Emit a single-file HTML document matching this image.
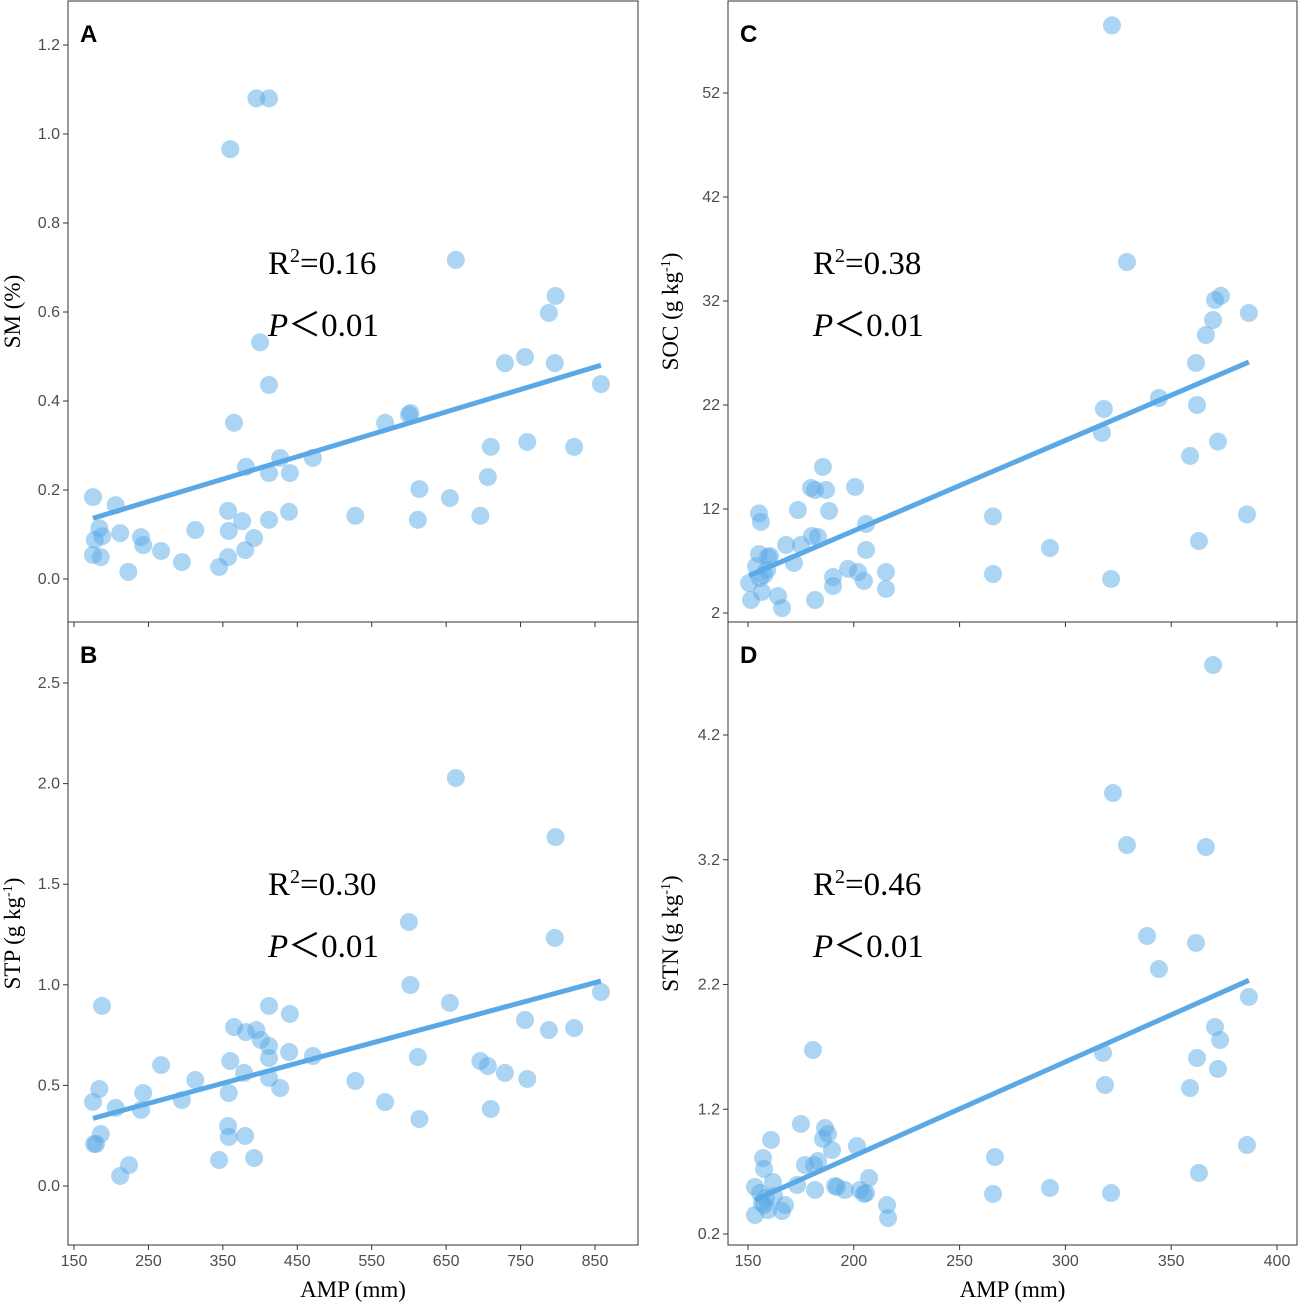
<!DOCTYPE html>
<html><head><meta charset="utf-8">
<style>
html,body{margin:0;padding:0;background:#fff;}
svg{display:block;}
.tk{font-family:"Liberation Sans",sans-serif;font-size:16px;fill:#4d4d4d;}
.ttl{font-family:"Liberation Serif",serif;font-size:23px;fill:#000;}
.ann{font-family:"Liberation Serif",serif;font-size:33px;fill:#000;}
.lab{font-family:"Liberation Sans",sans-serif;font-size:24px;font-weight:bold;fill:#000;}
</style></head>
<body>
<svg id="chart" width="1299" height="1302" viewBox="0 0 1299 1302"></svg>
<script>
const xA=[175.5,175.5,178,184,188,186,206,212,223,240,243,267,295,313,345,357,358,357,360,365,380,376,381,392,395,412,400,412,412,412,427,440,439,471,528,568,600,602,614,612,655,663,696,706,710,729,756,759,788,796,797,822,858];
const yA=[.184,.054,.088,.114,.096,.049,.166,.103,.016,.094,.076,.063,.038,.110,.027,.153,.108,.049,.966,.351,.065,.130,.252,.092,1.08,1.08,.532,.436,.238,.133,.272,.238,.151,.272,.142,.351,.369,.373,.202,.133,.182,.717,.142,.229,.297,.485,.499,.308,.598,.485,.636,.297,.438];
const xB=[175.5,177,179.6,184,186,187.6,206,212,224,240,243,267,295,313,345,357,358,360,358,365,378.5,380,381,392,395,401,412,412,412,412,427,440,439,471,528,568,600,602,612,614,655,663,696,706,710,729,756,759,788,796,797,822,858];
const yB=[.418,.209,.209,.482,.258,.895,.388,.050,.104,.378,.462,.601,.427,.527,.129,.298,.244,.621,.462,.790,.562,.249,.765,.139,.775,.726,.895,.696,.636,.537,.487,.855,.666,.646,.522,.417,1.312,.999,.641,.333,.910,2.028,.621,.596,.383,.562,.825,.532,.775,1.233,1.734,.785,.964];
const xC=[150.5,151.4,153.8,155.2,156.1,155.2,155.7,156.6,157.6,159.0,159.5,160.4,164.2,166.1,168.0,171.7,173.6,175.0,179.8,180.2,181.7,183.1,185.4,186.9,188.3,190.2,190.2,197.3,200.6,202.0,204.8,205.8,205.8,215.2,215.2,181.7,265.8,265.8,292.7,318.2,317.3,321.6,322.0,329.1,344.2,358.9,361.7,362.2,363.1,366.4,369.8,370.7,372.1,373.5,385.8,386.7];
const yC=[4.88,3.25,6.49,11.58,10.75,7.67,5.37,4.02,5.65,6.13,7.38,7.48,3.63,2.48,8.54,6.81,11.90,8.54,14.02,9.40,13.83,9.31,16.04,13.83,11.81,5.46,4.60,6.25,14.12,5.94,5.08,10.56,8.06,5.94,4.31,3.25,11.29,5.75,8.25,21.62,19.31,5.27,58.5,35.75,22.67,17.10,26.04,22.0,8.92,28.73,30.17,32.1,18.48,32.5,11.48,30.85];
const xD=[153.3,153.3,155.7,156.6,157.1,157.6,157.6,158.5,159.5,160.9,161.8,162.3,166.1,167.5,173.2,175.0,176.9,180.7,181.2,183.1,185.4,186.4,187.8,189.7,191.1,192.1,195.8,201.5,202.9,204.8,205.8,207.2,215.7,216.2,181.7,265.8,266.7,292.7,317.8,318.7,321.6,322.5,329.1,338.6,344.2,358.9,361.7,362.2,363.1,366.4,369.8,370.7,372.1,373.1,385.8,386.7];
const yD=[.352,.577,.529,.449,.809,.721,.432,.489,.392,.954,.617,.505,.384,.432,.593,1.082,.753,1.675,.753,.785,.962,1.050,1.002,.873,.585,.577,.553,.905,.553,.521,.529,.649,.432,.328,.553,.521,.817,.569,1.651,1.394,.529,3.735,3.318,2.589,2.324,1.370,2.533,1.611,.689,3.302,4.761,1.859,1.523,1.755,.913,2.100];
const ticksXAB=[150,250,350,450,550,650,750,850];
const ticksXCD=[150,200,250,300,350,400];
const ticksYA=[0.0,0.2,0.4,0.6,0.8,1.0,1.2];
const ticksYB=[0.0,0.5,1.0,1.5,2.0,2.5];
const ticksYC=[2,12,22,32,42,52];
const ticksYD=[0.2,1.2,2.2,3.2,4.2];
const r2Labels=["0.16","0.30","0.38","0.46"];

const NS="http://www.w3.org/2000/svg";
const svg=document.getElementById('chart');
function mk(tag,attrs,parent){const e=document.createElementNS(NS,tag);for(const k in attrs)e.setAttribute(k,attrs[k]);(parent||svg).appendChild(e);return e;}
function lin(d0,d1,p0,p1){return v=>p0+(v-d0)*(p1-p0)/(d1-d0);}
function fit(xs,ys){const n=xs.length;let mx=0,my=0;for(let i=0;i<n;i++){mx+=xs[i];my+=ys[i];}mx/=n;my/=n;let sxy=0,sxx=0;for(let i=0;i<n;i++){sxy+=(xs[i]-mx)*(ys[i]-my);sxx+=(xs[i]-mx)**2;}const b=sxy/sxx;return [my-b*mx,b];}

function panel(o){
  const g=mk('g',{});
  
  
  const sx=lin(o.xd[0],o.xd[1],o.xp[0],o.xp[1]);
  const sy=lin(o.yd[0],o.yd[1],o.yp[0],o.yp[1]);
  const fr=mk('rect',{x:o.L,y:o.T,width:o.R-o.L,height:o.B-o.T,fill:'none',stroke:'#333',"stroke-width":1},g);
  
  
  o.yt.forEach(v=>{const y=sy(v);
    mk('line',{x1:o.L-5,x2:o.L,y1:y,y2:y,stroke:'#333'},g);
    const t=mk('text',{x:o.L-8,y:y+5,'text-anchor':'end',class:'tk'},g);t.textContent=o.yfmt(v);
    
    });
  o.xt.forEach(v=>{const x=sx(v);
    mk('line',{x1:x,x2:x,y1:o.B,y2:o.B+5,stroke:'#333'},g);
    if(o.xlab){const t=mk('text',{x:x,y:o.B+21,'text-anchor':'middle',class:'tk'},g);t.textContent=v;
    
    }});
  o.xs.forEach((xv,i)=>{const c=mk('circle',{cx:sx(xv),cy:sy(o.ys[i]),r:9,fill:'#5aaae8','fill-opacity':0.5},g);
    
    });
  const [a,b]=fit(o.xs,o.ys);
  const x0=Math.min(...o.xs),x1=Math.max(...o.xs);
  const ln=mk('line',{x1:sx(x0),y1:sy(a+b*x0),x2:sx(x1),y2:sy(a+b*x1),stroke:'#5aa9e6','stroke-width':5},g);
  
  
  const lt=mk('text',{x:o.L+12,y:o.T+41,class:'lab'},g);lt.textContent=o.letter;
  
  
  const r=mk('text',{x:o.ax,y:o.T+273,class:'ann'},g);
  r.innerHTML='R<tspan font-size="20" dy="-12">2</tspan><tspan dy="12">=</tspan>'+o.r2;
  
  
  const p=mk('text',{x:o.ax,y:o.T+335,class:'ann'},g);
  p.innerHTML='<tspan font-style="italic">P</tspan>＜0.01';
  
  
  const yt=mk('text',{transform:`translate(${o.ytx},${(o.T+o.B)/2}) rotate(-90)`,'text-anchor':'middle',class:'ttl'},g);
  yt.innerHTML=o.ytitle;
  
  
  if(o.xlab){const xt=mk('text',{x:(o.L+o.R)/2,y:1297,'text-anchor':'middle',class:'ttl'},g);xt.textContent='AMP (mm)';
    
    }
}
const f1=v=>v.toFixed(1);
const unit='(g kg<tspan font-size="14" dy="-8">-1</tspan><tspan dy="8">)</tspan>';
panel({letter:'A',L:68,R:638,T:1,B:622,xd:[150,850],xp:[74,595],yd:[0,1.2],yp:[579,45],xs:xA,ys:yA,xt:ticksXAB,yt:ticksYA,yfmt:f1,xlab:false,r2:r2Labels[0],ax:268,ytx:20,ytitle:'SM (%)'});
panel({letter:'B',L:68,R:638,T:622,B:1245,xd:[150,850],xp:[74,595],yd:[0,2.5],yp:[1186,683],xs:xB,ys:yB,xt:ticksXAB,yt:ticksYB,yfmt:f1,xlab:true,r2:r2Labels[1],ax:268,ytx:20,ytitle:'STP '+unit});
panel({letter:'C',L:728,R:1297,T:1,B:622,xd:[150,400],xp:[748,1277],yd:[2,52],yp:[613,93],xs:xC,ys:yC,xt:ticksXCD,yt:ticksYC,yfmt:v=>v,xlab:false,r2:r2Labels[2],ax:813,ytx:678,ytitle:'SOC '+unit});
panel({letter:'D',L:728,R:1297,T:622,B:1245,xd:[150,400],xp:[748,1277],yd:[0.2,4.2],yp:[1234,735],xs:xD,ys:yD,xt:ticksXCD,yt:ticksYD,yfmt:f1,xlab:true,r2:r2Labels[3],ax:813,ytx:678,ytitle:'STN '+unit});
</script>
</body></html>
